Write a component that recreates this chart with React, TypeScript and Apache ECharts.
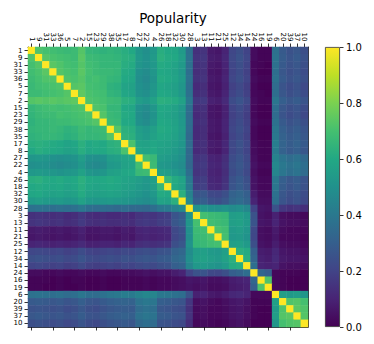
import React, { useEffect, useRef } from "react";
import * as echarts from "echarts";

const labels = ["1","9","31","33","36","5","7","2","15","23","29","38","35","17","8","27","22","4","26","18","32","30","28","3","13","11","21","25","12","34","14","24","16","19","6","20","39","37","10"];

const title = "Popularity";
const colorbarTicks = [0, 0.2, 0.4, 0.6, 0.8, 1.0];

// lower triangle (row i holds values for columns 0..i-1); diagonal is 1
const lower: number[][] = [
  [],
  [0.72],
  [0.70, 0.73],
  [0.69, 0.71, 0.74],
  [0.68, 0.70, 0.72, 0.73],
  [0.67, 0.69, 0.70, 0.71, 0.72],
  [0.68, 0.68, 0.69, 0.70, 0.71, 0.73],
  [0.73, 0.74, 0.73, 0.74, 0.73, 0.74, 0.75],
  [0.66, 0.68, 0.69, 0.70, 0.69, 0.70, 0.71, 0.72],
  [0.65, 0.67, 0.68, 0.68, 0.70, 0.69, 0.70, 0.71, 0.72],
  [0.64, 0.66, 0.66, 0.67, 0.68, 0.68, 0.69, 0.70, 0.71, 0.73],
  [0.65, 0.66, 0.66, 0.67, 0.66, 0.64, 0.65, 0.68, 0.66, 0.67, 0.68],
  [0.64, 0.65, 0.66, 0.66, 0.65, 0.63, 0.64, 0.67, 0.66, 0.66, 0.67, 0.73],
  [0.62, 0.63, 0.62, 0.61, 0.60, 0.58, 0.59, 0.63, 0.60, 0.61, 0.60, 0.63, 0.64],
  [0.60, 0.62, 0.61, 0.60, 0.59, 0.57, 0.58, 0.62, 0.59, 0.60, 0.60, 0.62, 0.63, 0.71],
  [0.52, 0.53, 0.52, 0.50, 0.49, 0.50, 0.51, 0.55, 0.50, 0.49, 0.50, 0.55, 0.56, 0.58, 0.59],
  [0.49, 0.50, 0.50, 0.48, 0.47, 0.48, 0.49, 0.53, 0.48, 0.47, 0.48, 0.53, 0.54, 0.57, 0.58, 0.69],
  [0.53, 0.54, 0.53, 0.52, 0.51, 0.52, 0.53, 0.57, 0.52, 0.51, 0.52, 0.56, 0.57, 0.59, 0.60, 0.67, 0.68],
  [0.62, 0.63, 0.61, 0.60, 0.61, 0.59, 0.60, 0.63, 0.60, 0.59, 0.60, 0.61, 0.60, 0.58, 0.57, 0.55, 0.53, 0.56],
  [0.60, 0.61, 0.60, 0.59, 0.60, 0.58, 0.59, 0.62, 0.59, 0.58, 0.59, 0.60, 0.59, 0.57, 0.56, 0.54, 0.52, 0.55, 0.66],
  [0.59, 0.60, 0.58, 0.57, 0.58, 0.56, 0.57, 0.61, 0.57, 0.56, 0.57, 0.58, 0.57, 0.55, 0.54, 0.52, 0.50, 0.53, 0.61, 0.60],
  [0.54, 0.55, 0.54, 0.53, 0.54, 0.52, 0.53, 0.57, 0.53, 0.52, 0.53, 0.54, 0.53, 0.52, 0.51, 0.49, 0.48, 0.50, 0.58, 0.57, 0.63],
  [0.37, 0.38, 0.37, 0.36, 0.37, 0.36, 0.37, 0.40, 0.36, 0.35, 0.36, 0.35, 0.34, 0.35, 0.34, 0.34, 0.33, 0.36, 0.40, 0.41, 0.44, 0.47],
  [0.14, 0.15, 0.14, 0.13, 0.14, 0.12, 0.13, 0.16, 0.13, 0.12, 0.13, 0.12, 0.12, 0.13, 0.12, 0.15, 0.16, 0.15, 0.17, 0.18, 0.26, 0.29, 0.50],
  [0.15, 0.16, 0.15, 0.14, 0.15, 0.13, 0.14, 0.17, 0.14, 0.13, 0.14, 0.13, 0.13, 0.14, 0.13, 0.16, 0.17, 0.16, 0.18, 0.19, 0.27, 0.30, 0.52, 0.70],
  [0.07, 0.08, 0.07, 0.06, 0.07, 0.06, 0.07, 0.09, 0.06, 0.06, 0.07, 0.07, 0.06, 0.08, 0.07, 0.10, 0.11, 0.10, 0.11, 0.12, 0.22, 0.25, 0.50, 0.68, 0.69],
  [0.06, 0.07, 0.06, 0.05, 0.06, 0.05, 0.06, 0.08, 0.05, 0.05, 0.06, 0.06, 0.05, 0.07, 0.06, 0.09, 0.10, 0.09, 0.10, 0.11, 0.21, 0.24, 0.49, 0.67, 0.68, 0.71],
  [0.10, 0.11, 0.10, 0.09, 0.10, 0.09, 0.10, 0.12, 0.09, 0.09, 0.10, 0.10, 0.09, 0.11, 0.10, 0.13, 0.14, 0.13, 0.14, 0.15, 0.24, 0.27, 0.51, 0.66, 0.67, 0.69, 0.70],
  [0.21, 0.22, 0.21, 0.20, 0.21, 0.19, 0.20, 0.23, 0.20, 0.19, 0.20, 0.21, 0.20, 0.22, 0.21, 0.23, 0.24, 0.23, 0.25, 0.26, 0.31, 0.33, 0.48, 0.55, 0.56, 0.54, 0.53, 0.56],
  [0.24, 0.25, 0.24, 0.23, 0.24, 0.22, 0.23, 0.26, 0.23, 0.22, 0.23, 0.24, 0.23, 0.25, 0.24, 0.26, 0.27, 0.26, 0.28, 0.29, 0.33, 0.35, 0.49, 0.56, 0.57, 0.55, 0.54, 0.57, 0.63],
  [0.20, 0.21, 0.20, 0.19, 0.20, 0.18, 0.19, 0.22, 0.19, 0.18, 0.19, 0.20, 0.19, 0.21, 0.20, 0.22, 0.23, 0.22, 0.24, 0.25, 0.30, 0.32, 0.46, 0.53, 0.54, 0.52, 0.51, 0.54, 0.61, 0.62],
  [0.03, 0.03, 0.02, 0.02, 0.03, 0.02, 0.02, 0.03, 0.02, 0.02, 0.03, 0.02, 0.02, 0.03, 0.03, 0.04, 0.05, 0.04, 0.05, 0.05, 0.08, 0.10, 0.20, 0.25, 0.26, 0.22, 0.21, 0.24, 0.30, 0.32, 0.36],
  [0.01, 0.01, 0.01, 0.00, 0.01, 0.00, 0.01, 0.01, 0.00, 0.00, 0.01, 0.00, 0.00, 0.01, 0.01, 0.01, 0.02, 0.01, 0.02, 0.02, 0.03, 0.04, 0.06, 0.05, 0.06, 0.04, 0.04, 0.05, 0.08, 0.09, 0.10, 0.33],
  [0.01, 0.01, 0.00, 0.00, 0.01, 0.00, 0.00, 0.01, 0.00, 0.00, 0.01, 0.00, 0.00, 0.01, 0.01, 0.01, 0.02, 0.01, 0.02, 0.02, 0.03, 0.04, 0.05, 0.04, 0.05, 0.03, 0.03, 0.04, 0.07, 0.08, 0.09, 0.30, 0.72],
  [0.37, 0.38, 0.37, 0.36, 0.37, 0.35, 0.36, 0.39, 0.36, 0.35, 0.37, 0.39, 0.40, 0.42, 0.41, 0.44, 0.46, 0.45, 0.40, 0.39, 0.37, 0.36, 0.25, 0.09, 0.10, 0.07, 0.06, 0.08, 0.11, 0.12, 0.10, 0.02, 0.02, 0.02],
  [0.28, 0.29, 0.28, 0.27, 0.28, 0.26, 0.27, 0.30, 0.27, 0.26, 0.28, 0.30, 0.31, 0.32, 0.31, 0.38, 0.40, 0.39, 0.30, 0.29, 0.27, 0.26, 0.16, 0.04, 0.05, 0.03, 0.02, 0.04, 0.06, 0.07, 0.05, 0.01, 0.01, 0.01, 0.56],
  [0.25, 0.26, 0.25, 0.24, 0.25, 0.23, 0.24, 0.27, 0.24, 0.23, 0.25, 0.27, 0.28, 0.29, 0.28, 0.35, 0.37, 0.36, 0.27, 0.26, 0.24, 0.23, 0.14, 0.03, 0.04, 0.02, 0.02, 0.03, 0.05, 0.06, 0.04, 0.01, 0.00, 0.00, 0.54, 0.72],
  [0.27, 0.28, 0.27, 0.26, 0.27, 0.25, 0.26, 0.29, 0.26, 0.25, 0.27, 0.29, 0.30, 0.31, 0.30, 0.37, 0.39, 0.38, 0.29, 0.28, 0.26, 0.25, 0.15, 0.03, 0.04, 0.02, 0.02, 0.03, 0.05, 0.06, 0.04, 0.01, 0.00, 0.00, 0.55, 0.73, 0.74],
  [0.24, 0.25, 0.24, 0.23, 0.24, 0.22, 0.23, 0.26, 0.23, 0.22, 0.24, 0.26, 0.27, 0.28, 0.27, 0.34, 0.36, 0.35, 0.26, 0.25, 0.23, 0.22, 0.13, 0.02, 0.03, 0.02, 0.01, 0.02, 0.04, 0.05, 0.03, 0.00, 0.00, 0.00, 0.52, 0.70, 0.72, 0.73],
];

const viridis = ["#440154", "#482475", "#414487", "#355f8d", "#2a788e", "#21918c", "#22a884", "#44bf70", "#7ad151", "#bddf26", "#fde725"];

const FONT = "DejaVu Sans";

export default function App() {
  const ref = useRef<HTMLDivElement>(null);
  useEffect(() => {
    if (!ref.current) return;
    const chart = echarts.init(ref.current, null, { renderer: "svg" });
    const n = labels.length;
    const data: [number, number, number][] = [];
    for (let i = 0; i < n; i++) {
      for (let j = 0; j < n; j++) {
        const v = i === j ? 1 : i > j ? lower[i][j] : lower[j][i];
        data.push([j, i, v ?? 0]);
      }
    }
    const tickStyle = { show: true, alignWithLabel: true, length: 3.5, lineStyle: { color: "#000", width: 0.8 } };
    const lineStyle = { show: true, onZero: false, lineStyle: { color: "#000", width: 0.8 } };
    const stops = viridis.map((c, k) => ({ offset: k / (viridis.length - 1), color: c }));
    chart.setOption({
      animation: false,
      backgroundColor: "#fff",
      title: {
        text: title,
        left: 168,
        top: 6,
        textAlign: "center",
        textStyle: { fontSize: 13.5, fontWeight: "normal", color: "#000", fontFamily: FONT },
      },
      grid: [
        { left: 28, top: 47, width: 280, height: 280 },
        { left: 325, top: 47, width: 15, height: 280 },
      ],
      xAxis: [
        {
          type: "category", gridIndex: 0, data: labels, position: "top",
          axisLine: lineStyle, axisTick: tickStyle, splitLine: { show: false },
          axisLabel: { interval: 0, rotate: 90, fontSize: 7, margin: 5.5, color: "#000", fontFamily: FONT },
        },
        {
          type: "category", gridIndex: 0, data: labels, position: "bottom",
          axisLine: lineStyle, axisTick: tickStyle, axisLabel: { show: false }, splitLine: { show: false },
        },
        { type: "category", gridIndex: 1, data: [""], show: false },
      ],
      yAxis: [
        {
          type: "category", gridIndex: 0, data: labels, inverse: true,
          axisLine: lineStyle, axisTick: tickStyle, splitLine: { show: false },
          axisLabel: { interval: 0, fontSize: 7, margin: 5.5, color: "#000", fontFamily: FONT },
        },
        {
          type: "category", gridIndex: 0, data: labels, inverse: true, position: "right",
          axisLine: lineStyle, axisTick: { show: false }, axisLabel: { show: false }, splitLine: { show: false },
        },
        {
          type: "value", gridIndex: 1, min: 0, max: 1, interval: 0.2, position: "right",
          axisLine: { show: false }, splitLine: { show: false },
          axisTick: { show: true, length: 3.5, lineStyle: { color: "#000", width: 0.8 } },
          axisLabel: { fontSize: 10, margin: 6, color: "#000", fontFamily: FONT, formatter: (v: number) => v.toFixed(1) },
        },
      ],
      visualMap: {
        show: false, min: 0, max: 1, dimension: 2, seriesIndex: 0,
        inRange: { color: viridis },
      },
      series: [
        {
          type: "heatmap", xAxisIndex: 0, yAxisIndex: 0, data,
          emphasis: { disabled: true }, progressive: 0,
          itemStyle: { borderWidth: 0 },
        },
        {
          type: "bar", xAxisIndex: 2, yAxisIndex: 2, data: [colorbarTicks[colorbarTicks.length - 1]],
          barWidth: "100%", silent: true,
          itemStyle: {
            color: new echarts.graphic.LinearGradient(0, 1, 0, 0, stops),
            borderColor: "#333", borderWidth: 0.8,
          },
        },
      ],
    });
    return () => chart.dispose();
  }, []);
  return <div ref={ref} style={{ position: "fixed", left: 0, top: 0, width: 374, height: 344 }} />;
}
